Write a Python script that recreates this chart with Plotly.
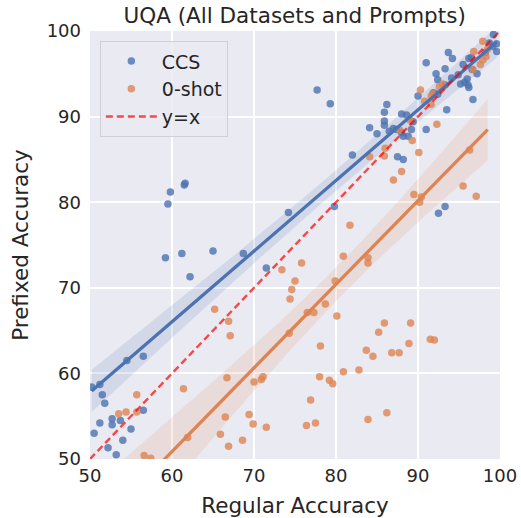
import numpy as np
import plotly.graph_objects as go

# ---- data ----
ccs_x = [50.2, 51.2, 51.5, 51.8, 54.5, 56.5, 56.5, 52.7, 53.7, 51.2, 52.7, 55.0, 50.5, 54.0, 52.2, 53.2,
         59.8, 61.5, 61.6, 59.5, 59.2, 61.2, 65.0, 62.2, 68.7, 71.5, 74.2, 79.8, 77.7, 79.3, 92.5, 93.3, 82.0,
         84.1, 85.0, 85.9, 85.9, 85.9, 86.2, 86.5, 87.0, 87.4, 88.0, 88.2, 88.8, 89.2, 91.0, 88.0, 88.6, 89.4,
         87.5, 88.2, 90.0, 91.9, 92.4, 93.3, 93.5, 96.7, 91.0, 92.2, 92.4, 93.3, 93.7, 94.2, 94.1, 94.9, 95.5,
         96.2, 96.5, 95.2, 95.7, 96.0, 96.1, 96.2, 97.2, 96.6, 99.2, 99.6, 99.6, 98.7, 99.1, 98.2]
ccs_y = [58.4, 58.7, 57.5, 56.5, 61.5, 62.0, 55.7, 54.7, 54.5, 54.2, 54.0, 53.5, 53.0, 52.2, 51.3, 50.5,
         81.2, 82.0, 82.2, 79.8, 73.5, 74.0, 74.3, 71.3, 74.0, 72.3, 78.8, 79.5, 93.1, 91.5, 78.7, 79.5, 85.5,
         88.7, 88.0, 89.0, 89.5, 90.5, 91.4, 88.3, 88.6, 88.5, 88.1, 87.7, 87.7, 88.5, 88.5, 90.3, 90.2, 89.4,
         85.3, 85.0, 92.4, 92.8, 92.6, 93.7, 90.8, 92.0, 96.3, 95.0, 94.3, 95.6, 97.5, 96.8, 94.5, 94.9, 96.1,
         96.8, 96.9, 93.8, 94.0, 94.4, 93.7, 93.4, 95.0, 95.5, 99.6, 98.5, 97.6, 98.6, 98.2, 97.5]

zs_x = [53.5, 54.4, 55.7, 55.7, 56.6, 57.4, 61.4, 61.9, 65.2, 66.9, 67.1, 66.7, 66.5, 65.9, 66.9, 68.6,
        69.4, 69.9, 70.0, 70.9, 71.1, 71.5, 73.4, 74.3, 74.4, 74.6, 75.0, 75.8, 76.4, 76.5, 76.9, 77.3,
        77.5, 78.0, 78.1, 78.7, 79.2, 79.6, 79.9, 80.1, 80.9, 80.9, 81.7, 82.8, 83.7, 83.9, 83.9, 83.9,
        84.5, 85.2, 85.9, 86.2, 86.8, 87.7, 88.9, 89.1, 91.5, 92.0, 89.5, 90.4, 90.2, 87.0, 88.0, 84.1,
        85.9, 86.0, 89.3, 90.1, 92.3, 90.3, 90.8, 91.6, 91.6, 92.6, 95.5, 96.3, 97.1, 96.7, 97.6, 96.8,
        98.3, 97.9, 98.5, 97.9, 91.8, 93.0, 89.0, 87.8]
zs_y = [55.3, 55.5, 55.5, 57.5, 50.4, 50.1, 58.2, 52.5, 67.5, 66.1, 64.4, 59.5, 54.9, 52.9, 51.5, 52.2,
        55.2, 54.1, 59.0, 59.3, 59.6, 53.7, 72.1, 64.7, 68.7, 69.8, 70.8, 72.9, 53.9, 67.1, 56.9, 67.1,
        54.2, 59.6, 63.2, 68.1, 59.2, 58.8, 70.8, 66.7, 73.7, 60.2, 77.3, 60.4, 62.7, 73.5, 72.9, 54.6,
        62.0, 64.8, 65.9, 55.4, 62.4, 62.4, 63.5, 65.9, 64.0, 63.9, 80.9, 80.6, 80.0, 82.6, 83.6, 85.3,
        85.4, 86.3, 87.2, 85.8, 89.1, 93.1, 91.8, 92.4, 91.4, 93.5, 81.9, 86.1, 80.7, 95.5, 96.1, 97.6,
        97.0, 98.8, 97.9, 96.6, 92.7, 93.8, 89.6, 88.4]

ticks = [50, 60, 70, 80, 90, 100]
series_names = ["CCS", "0-shot"]
BLUE = "#4C72B0"
ORANGE = "#DD8452"


def regression(x, y, n=100, t=1.99):
    x = np.asarray(x, float)
    y = np.asarray(y, float)
    b1, b0 = np.polyfit(x, y, 1)
    xs = np.linspace(x.min(), x.max(), n)
    yh = b0 + b1 * xs
    resid = y - (b0 + b1 * x)
    s = np.sqrt(np.sum(resid ** 2) / (len(x) - 2))
    sxx = np.sum((x - x.mean()) ** 2)
    se = s * np.sqrt(1 / len(x) + (xs - x.mean()) ** 2 / sxx)
    return xs, yh, yh - t * se, yh + t * se


def rgba(hexc, a):
    h = hexc.lstrip("#")
    r, g, b = int(h[0:2], 16), int(h[2:4], 16), int(h[4:6], 16)
    return f"rgba({r},{g},{b},{a})"


fig = go.Figure()
lines = []
for name, xv, yv, col in [(series_names[0], ccs_x, ccs_y, BLUE), (series_names[1], zs_x, zs_y, ORANGE)]:
    fig.add_trace(go.Scatter(x=xv, y=yv, mode="markers", name=name,
                             marker=dict(color=rgba(col, 0.8), size=7.5, line=dict(width=0))))
    xs, yh, lo, hi = regression(xv, yv)
    fig.add_trace(go.Scatter(x=np.concatenate([xs, xs[::-1]]), y=np.concatenate([hi, lo[::-1]]),
                             fill="toself", fillcolor=rgba(col, 0.15), line=dict(width=0),
                             mode="lines", showlegend=False, hoverinfo="skip"))
    lines.append((xs, yh, col))

for xs, yh, col in lines:
    fig.add_trace(go.Scatter(x=xs, y=yh, mode="lines", line=dict(color=col, width=3.3), showlegend=False))

fig.add_trace(go.Scatter(x=[50, 100], y=[50, 100], mode="lines", name="y=x",
                         line=dict(color="rgba(255,0,0,0.7)", width=2.4, dash="7px,4px")))

FONT = "DejaVu Sans"
fig.update_layout(
    width=521, height=518,
    margin=dict(l=90, r=21, t=31, b=59, autoexpand=False),
    paper_bgcolor="white", plot_bgcolor="#EAEAF2",
    font=dict(family=FONT, color="#262626", size=18),
    title=dict(text="UQA (All Datasets and Prompts)", x=0.5655, xanchor="center", y=0.971, yanchor="middle",
               font=dict(size=21.5, color="#262626")),
    legend=dict(x=0.024, y=0.976, xanchor="left", yanchor="top",
                bgcolor="rgba(234,234,242,0.8)", bordercolor="#CFCFD6", borderwidth=1,
                font=dict(size=19, color="#262626"), tracegroupgap=0, itemwidth=51),
    showlegend=True,
)
fig.update_xaxes(range=[50, 100], tickvals=ticks, ticktext=[str(t) for t in ticks],
                 showgrid=True, gridcolor="white", gridwidth=1.5, zeroline=False, showline=False,
                 ticks="", ticklabelstandoff=4, automargin=False,
                 title=dict(text="Regular Accuracy", font=dict(size=21.5), standoff=12))
fig.update_yaxes(range=[50, 100], tickvals=ticks, ticktext=[str(t) for t in ticks],
                 showgrid=True, gridcolor="white", gridwidth=1.5, zeroline=False, showline=False,
                 ticks="", ticklabelstandoff=8, automargin=False,
                 title=dict(text="Prefixed Accuracy", font=dict(size=21.5), standoff=12))

fig.write_html("out.html")
